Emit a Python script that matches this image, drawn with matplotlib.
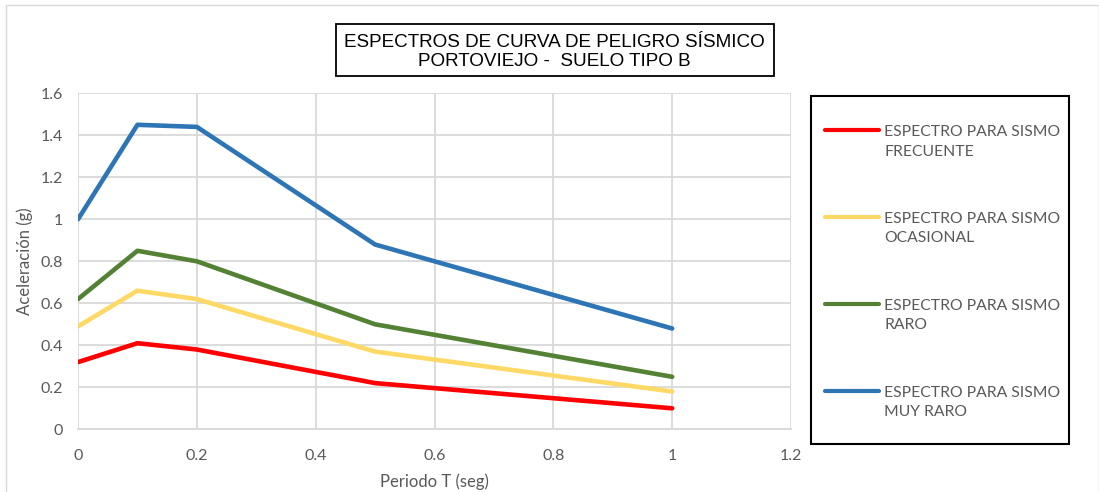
import matplotlib
matplotlib.use("Agg")
import matplotlib.pyplot as plt
from matplotlib.patches import Rectangle

# data
periodo = [0, 0.1, 0.2, 0.5, 1.0]
frecuente = [0.32, 0.41, 0.38, 0.22, 0.10]
ocasional = [0.49, 0.66, 0.62, 0.37, 0.18]
raro = [0.62, 0.85, 0.80, 0.50, 0.25]
muy_raro = [1.00, 1.45, 1.44, 0.88, 0.48]

series_names = ["ESPECTRO PARA SISMO\nFRECUENTE",
                "ESPECTRO PARA SISMO\nOCASIONAL",
                "ESPECTRO PARA SISMO\nRARO",
                "ESPECTRO PARA SISMO\nMUY RARO"]
colors = ["#FF0000", "#FFD966", "#548235", "#2E75B6"]

x_ticks = [0, 0.2, 0.4, 0.6, 0.8, 1.0, 1.2]
x_labels = ["0", "0.2", "0.4", "0.6", "0.8", "1", "1.2"]
y_ticks = [0, 0.2, 0.4, 0.6, 0.8, 1.0, 1.2, 1.4, 1.6]
y_labels = ["0", "0.2", "0.4", "0.6", "0.8", "1", "1.2", "1.4", "1.6"]

gray = "#595959"
W, H = 1099, 492

fig = plt.figure(figsize=(W / 100, H / 100), dpi=100)
ax = fig.add_axes([78 / W, 1 - 429.3 / H, (791 - 78) / W, (429.3 - 93.3) / H])

for vals, name, c in zip([frecuente, ocasional, raro, muy_raro], series_names, colors):
    ax.plot(periodo, vals, color=c, lw=3.3, label=name, solid_capstyle="round")

ax.set_xlim(0, 1.2)
ax.set_ylim(0, 1.6)
ax.set_xticks(x_ticks)
ax.set_xticklabels(x_labels)
ax.set_yticks(y_ticks)
ax.set_yticklabels(y_labels)
ax.grid(True, color="#D9D9D9", lw=1.3)
ax.set_axisbelow(True)
for s in ["top", "right", "left"]:
    ax.spines[s].set_visible(False)
ax.spines["bottom"].set_color("#D9D9D9")
ax.spines["bottom"].set_linewidth(1.3)
ax.tick_params(length=0, labelsize=11.5, labelcolor=gray)
ax.tick_params(axis="x", pad=14)
ax.tick_params(axis="y", pad=11)
for lab in ax.get_xticklabels() + ax.get_yticklabels():
    lab.set_family("Lato")

ax.set_xlabel("Periodo T (seg)", family="Lato", fontsize=12, color=gray, labelpad=8)
ax.set_ylabel("Aceleración (g)", family="Lato", fontsize=12, color=gray, labelpad=5)

# title box
fig.add_artist(Rectangle((336 / W, 1 - 76 / H), (774 - 336) / W, (76 - 24) / H,
                         transform=fig.transFigure, fill=False, ec="black", lw=1.3))
fig.text(554 / W, 1 - 52 / H, "ESPECTROS DE CURVA DE PELIGRO SÍSMICO\nPORTOVIEJO -  SUELO TIPO B",
         ha="center", va="center", family="Liberation Sans", fontsize=13.6, linespacing=1.14)

# legend box
fig.add_artist(Rectangle((811 / W, 1 - 444 / H), (1069 - 811) / W, (444 - 96) / H,
                         transform=fig.transFigure, fill=False, ec="black", lw=1.5))
leg = fig.legend(loc="upper left", bbox_to_anchor=(811 / W, 1 - 111 / H), frameon=False,
                 prop={"family": "Lato", "size": 11.3}, handlelength=3.45, handletextpad=0.32,
                 labelspacing=3.4)
for t in leg.get_texts():
    t.set_color(gray)
    t.set_linespacing(1.5)
# put the legend line level with the first text line, as in the reference
for h in leg.legend_handles:
    h.set_ydata([y + 8.3 for y in h.get_ydata()])
    h.set_linewidth(3.0)

# outer chart border
fig.add_artist(Rectangle((6 / W, -0.01), (W - 6) / W, 1, transform=fig.transFigure,
                         fill=False, ec="#D9D9D9", lw=1))

fig.savefig("out.png", dpi=100)
